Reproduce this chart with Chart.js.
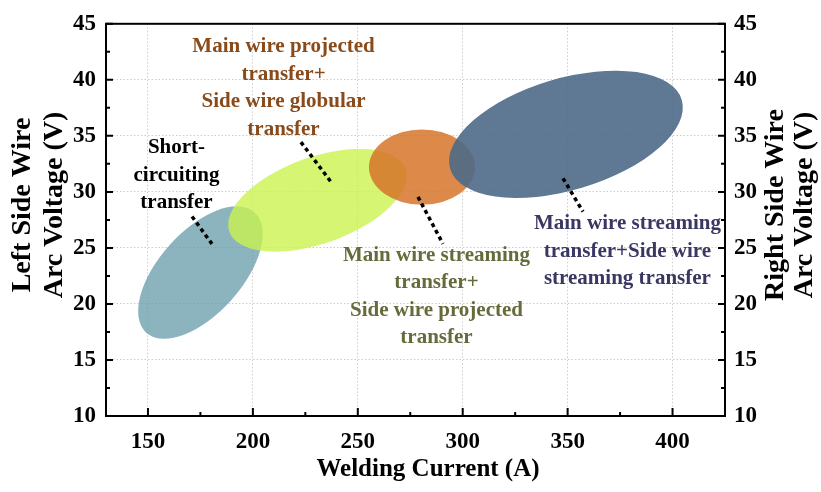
<!DOCTYPE html>
<html>
<head>
<meta charset="utf-8">
<script src="https://cdn.jsdelivr.net/npm/chart.js@4.4.1/dist/chart.umd.min.js"></script>
<style>
  html, body { margin: 0; padding: 0; background: #fff; }
  #wrap { width: 821px; height: 492px; }
</style>
</head>
<body>
<div id="wrap"><canvas id="c" width="821" height="492"></canvas></div>
<script>
// Axis ticks
const currentTicks = [150, 200, 250, 300, 350, 400];
const voltageTicks = [10, 15, 20, 25, 30, 35, 40, 45];

// Transfer-mode regions, drawn in this order (later ones on top)
// centre of each region (welding current A, arc voltage V)
const regionCenterCurrent = [175.0, 230.8, 280.6, 349.2];
const regionCenterVoltage = [22.8, 29.25, 32.21, 35.14];
// tip of the long semi-axis
const regionMajorCurrent = [200.8, 272.8, 305.9, 404.4];
const regionMajorVoltage = [28.17, 32.05, 32.21, 38.21];
// tip of the short semi-axis
const regionMinorCurrent = [160.0, 223.6, 280.6, 341.3];
const regionMinorVoltage = [25.20, 32.86, 35.57, 39.90];

// Region labels, in the same order as the regions
const labelLines = [
  ['Short-', 'circuiting', 'transfer'],
  ['Main wire projected', 'transfer+', 'Side wire globular', 'transfer'],
  ['Main wire streaming', 'transfer+', 'Side wire projected', 'transfer'],
  ['Main wire streaming', 'transfer+Side wire', 'streaming transfer']
];
const labelCurrent = [163.6, 214.6, 287.5, 378.5];
const labelVoltage = [31.47, 39.28, 20.67, 24.71];

// Dotted leader lines from label to region
const leaderFromCurrent = [171.0, 222.9, 278.7, 347.8];
const leaderFromVoltage = [27.8, 34.44, 29.55, 31.21];
const leaderToCurrent = [180.5, 237.7, 290.6, 357.3];
const leaderToVoltage = [25.36, 30.77, 25.36, 28.24];

// Styles
const regionFill = [
  'rgba(100,155,170,0.75)',
  'rgba(203,243,80,0.80)',
  'rgba(214,116,42,0.85)',
  'rgba(78,106,136,0.90)'
];
const labelColor = ['#000000', '#8a4b1a', '#676b3c', '#3a3763'];
const FONT = "'Liberation Serif', 'Times New Roman', serif";

const regionPlugin = {
  id: 'regions',
  beforeDatasetsDraw(chart) {
    const { ctx, chartArea, scales } = chart;
    const X = v => scales.x.getPixelForValue(v);
    const Y = v => scales.y.getPixelForValue(v);
    ctx.save();
    ctx.beginPath();
    ctx.rect(chartArea.left, chartArea.top, chartArea.right - chartArea.left, chartArea.bottom - chartArea.top);
    ctx.clip();
    for (let i = 0; i < regionCenterCurrent.length; i++) {
      const cx = X(regionCenterCurrent[i]), cy = Y(regionCenterVoltage[i]);
      const mx = X(regionMajorCurrent[i]), my = Y(regionMajorVoltage[i]);
      const nx = X(regionMinorCurrent[i]), ny = Y(regionMinorVoltage[i]);
      const a = Math.hypot(mx - cx, my - cy);
      const b = Math.hypot(nx - cx, ny - cy);
      const rot = Math.atan2(my - cy, mx - cx);
      ctx.beginPath();
      ctx.ellipse(cx, cy, a, b, rot, 0, Math.PI * 2);
      ctx.fillStyle = regionFill[i];
      ctx.fill();
    }
    ctx.restore();
  },
  afterDatasetsDraw(chart) {
    const { ctx, scales } = chart;
    const X = v => scales.x.getPixelForValue(v);
    const Y = v => scales.y.getPixelForValue(v);
    ctx.save();
    // leader lines
    ctx.strokeStyle = '#000';
    ctx.lineWidth = 3.5;
    ctx.setLineDash([4, 3.5]);
    for (let i = 0; i < leaderFromCurrent.length; i++) {
      ctx.beginPath();
      ctx.moveTo(X(leaderFromCurrent[i]), Y(leaderFromVoltage[i]));
      ctx.lineTo(X(leaderToCurrent[i]), Y(leaderToVoltage[i]));
      ctx.stroke();
    }
    ctx.setLineDash([]);
    // labels
    ctx.font = 'bold 21px ' + FONT;
    ctx.textAlign = 'center';
    ctx.textBaseline = 'middle';
    const lh = 27.5;
    for (let i = 0; i < labelLines.length; i++) {
      const lines = labelLines[i];
      const x = X(labelCurrent[i]);
      const y0 = Y(labelVoltage[i]) - (lines.length - 1) * lh / 2;
      ctx.fillStyle = labelColor[i];
      lines.forEach((t, k) => ctx.fillText(t, x, y0 + k * lh));
    }
    ctx.restore();
  },
  afterDraw(chart) {
    const { ctx, chartArea: ca, scales } = chart;
    const X = v => scales.x.getPixelForValue(v);
    const Y = v => scales.y.getPixelForValue(v);
    ctx.save();
    ctx.strokeStyle = '#000';
    ctx.lineWidth = 2;
    // inward tick marks
    ctx.beginPath();
    const xMinor = [175, 225, 275, 325, 375];
    currentTicks.forEach(v => { ctx.moveTo(X(v), ca.bottom); ctx.lineTo(X(v), ca.bottom - 8); });
    xMinor.forEach(v => { ctx.moveTo(X(v), ca.bottom); ctx.lineTo(X(v), ca.bottom - 4); });
    const yMinor = [12.5, 17.5, 22.5, 27.5, 32.5, 37.5, 42.5];
    voltageTicks.forEach(v => {
      ctx.moveTo(ca.left, Y(v)); ctx.lineTo(ca.left + 7, Y(v));
      ctx.moveTo(ca.right, Y(v)); ctx.lineTo(ca.right - 7, Y(v));
    });
    yMinor.forEach(v => {
      ctx.moveTo(ca.left, Y(v)); ctx.lineTo(ca.left + 4, Y(v));
      ctx.moveTo(ca.right, Y(v)); ctx.lineTo(ca.right - 4, Y(v));
    });
    ctx.stroke();
    // frame
    ctx.strokeRect(ca.left, ca.top, ca.right - ca.left, ca.bottom - ca.top);

    // axis titles
    ctx.fillStyle = '#000';
    ctx.textAlign = 'center';
    ctx.textBaseline = 'middle';
    ctx.font = 'bold 25px ' + FONT;
    ctx.fillText('Welding Current (A)', 428, 470);

    ctx.font = 'bold 28px ' + FONT;
    const midY = 205;
    [['Left Side Wire', 23], ['Arc Voltage (V)', 55], ['Right Side Wire', 776], ['Arc Voltage (V)', 805]].forEach(([t, x]) => {
      ctx.save(); ctx.translate(x, midY); ctx.rotate(-Math.PI / 2); ctx.fillText(t, 0, 0); ctx.restore();
    });
    ctx.restore();
  }
};

const tickFont = { family: FONT, size: 23, weight: 'bold' };
const gridOpts = { color: 'rgba(0,0,0,0.2)', lineWidth: 1, drawTicks: false };

new Chart(document.getElementById('c'), {
  type: 'scatter',
  data: {
    datasets: [{
      data: regionCenterCurrent.map((c, i) => ({ x: c, y: regionCenterVoltage[i] })),
      pointRadius: 0,
      pointHoverRadius: 0
    }]
  },
  options: {
    responsive: false,
    animation: false,
    events: [],
    layout: { padding: { top: 15, left: 0, right: 0, bottom: 0 } },
    plugins: { legend: { display: false }, tooltip: { enabled: false } },
    scales: {
      x: {
        type: 'linear', position: 'bottom', min: 130, max: 425,
        afterBuildTicks: s => { s.ticks = currentTicks.map(v => ({ value: v })); },
        afterFit: s => { s.height = 76; },
        ticks: { font: tickFont, color: '#000', padding: 12 },
        grid: gridOpts,
        border: { display: false, dash: [1.5, 2] }
      },
      y: {
        type: 'linear', position: 'left', min: 10, max: 45,
        afterBuildTicks: s => { s.ticks = voltageTicks.map(v => ({ value: v })); },
        afterFit: s => { s.width = 106; },
        ticks: { font: tickFont, color: '#000', padding: 10 },
        grid: gridOpts,
        border: { display: false, dash: [1.5, 2] }
      },
      y2: {
        type: 'linear', position: 'right', min: 10, max: 45,
        afterBuildTicks: s => { s.ticks = voltageTicks.map(v => ({ value: v })); },
        afterFit: s => { s.width = 96; },
        ticks: { font: tickFont, color: '#000', padding: 9 },
        grid: { display: false, drawTicks: false },
        border: { display: false }
      }
    }
  },
  plugins: [regionPlugin]
});
</script>
</body>
</html>
